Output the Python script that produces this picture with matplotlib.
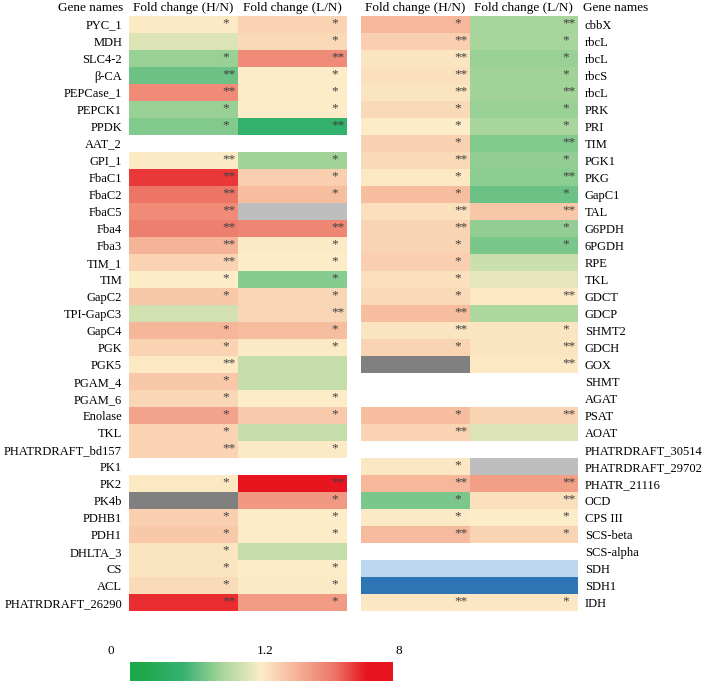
import matplotlib
matplotlib.use('Agg')
import matplotlib.pyplot as plt
import numpy as np
from matplotlib.colors import LinearSegmentedColormap, ListedColormap, TwoSlopeNorm

plt.rcParams['font.family'] = ['Liberation Serif', 'DejaVu Serif']

nan = np.nan

# %% data: left table
genes_l = ['PYC_1', 'MDH', 'SLC4-2', 'β-CA', 'PEPCase_1', 'PEPCK1', 'PPDK', 'AAT_2',
           'GPI_1', 'FbaC1', 'FbaC2', 'FbaC5', 'Fba4', 'Fba3', 'TIM_1', 'TIM', 'GapC2',
           'TPI-GapC3', 'GapC4', 'PGK', 'PGK5', 'PGAM_4', 'PGAM_6', 'Enolase', 'TKL',
           'PHATRDRAFT_bd157', 'PK1', 'PK2', 'PK4b', 'PDHB1', 'PDH1', 'DHLTA_3', 'CS',
           'ACL', 'PHATRDRAFT_26290']
hn_l = [1.3, 1.06, 0.79, 0.65, 4.3, 0.79, 0.72, nan, 1.3, 6.0, 5.0, 4.3, 4.7, 3.0, 2.0,
        1.25, 2.4, 1.03, 2.9, 2.0, 1.35, 2.4, 1.9, 3.5, 2.0, 2.0, nan, 1.35, nan, 2.15,
        2.35, 1.5, 1.5, 1.75, 6.2]
ln_l = [2.0, 1.8, 4.3, 1.2, 1.2, 1.2, 0.43, nan, 0.82, 2.15, 2.7, nan, 4.45, 1.3, 1.25,
        0.74, 1.9, 1.9, 2.7, 1.3, 0.96, 0.96, 1.25, 2.3, 0.96, 1.3, nan, 7.0, 3.9, 1.25,
        1.25, 0.96, 1.25, 1.3, 3.8]
hn_l_sig = ['*', '', '*', '**', '**', '*', '*', '', '**', '**', '**', '**', '**', '**',
            '**', '*', '*', '', '*', '*', '**', '*', '*', '*', '*', '**', '', '*', '',
            '*', '*', '*', '*', '*', '**']
ln_l_sig = ['*', '*', '**', '*', '*', '*', '**', '', '*', '*', '*', '', '**', '*', '*',
            '*', '*', '**', '*', '*', '', '', '*', '*', '', '*', '', '**', '*', '*', '*',
            '', '*', '*', '*']
# special cells: 1 = dark grey, 2 = light grey
hn_l_flag = {28: 1}
ln_l_flag = {11: 2}

# %% data: right table
genes_r = ['cbbX', 'rbcL', 'rbcL', 'rbcS', 'rbcL', 'PRK', 'PRI', 'TIM', 'PGK1', 'PKG',
           'GapC1', 'TAL', 'G6PDH', '6PGDH', 'RPE', 'TKL', 'GDCT', 'GDCP', 'SHMT2', 'GDCH',
           'GOX', 'SHMT', 'AGAT', 'PSAT', 'AOAT', 'PHATRDRAFT_30514', 'PHATRDRAFT_29702',
           'PHATR_21116', 'OCD', 'CPS III', 'SCS-beta', 'SCS-alpha', 'SDH', 'SDH1', 'IDH']
hn_r = [2.85, 2.15, 1.5, 1.6, 1.5, 1.8, 1.25, 2.1, 1.8, 1.35, 2.7, 1.6, 1.95, 1.95, 2.15,
        1.6, 1.8, 2.7, 1.5, 1.95, nan, nan, nan, 2.7, 2.0, nan, 1.4, 2.85, 0.7, 1.3, 2.75,
        nan, nan, nan, 1.4]
ln_r = [0.84, 0.84, 0.79, 0.82, 0.82, 0.79, 0.84, 0.72, 0.77, 0.75, 0.65, 2.4, 0.77, 0.7,
        0.99, 1.1, 1.35, 0.87, 1.5, 1.5, 1.35, nan, nan, 1.95, 1.06, nan, nan, 3.65, 1.6,
        1.25, 1.95, nan, nan, nan, 1.4]
hn_r_sig = ['*', '**', '**', '**', '**', '*', '*', '*', '**', '*', '*', '**', '**', '*',
            '*', '*', '*', '**', '**', '*', '', '', '', '*', '**', '', '*', '**', '*', '*',
            '**', '', '', '', '**']
ln_r_sig = ['**', '*', '*', '*', '**', '*', '*', '**', '*', '**', '*', '**', '*', '*', '',
            '', '**', '', '*', '**', '**', '', '', '**', '', '', '', '**', '**', '*', '*',
            '', '', '', '*']
# 3 = light blue, 4 = dark blue
hn_r_flag = {20: 1, 32: 3, 33: 4}
ln_r_flag = {26: 2, 32: 3, 33: 4}

col_titles = ['Fold change (H/N)', 'Fold change (L/N)']
cbar_ticks = [0, 1.2, 8]

# %% styles
cmap = LinearSegmentedColormap.from_list('fc', [
    (0.0, '#1ba84a'), (0.05, '#1fa94b'), (0.2, '#36b272'), (0.35, '#a8d59b'),
    (0.5, '#fcedc8'), (0.62, '#f6b99c'), (0.78, '#ec7566'), (0.9, '#e8141e'),
    (1.0, '#e8141e')])
norm = TwoSlopeNorm(vmin=0, vcenter=1.2, vmax=8)
flag_cmap = ListedColormap(['#808080', '#bebebe', '#bdd7ee', '#2e75b6'])

W, H = 708, 683
fig = plt.figure(figsize=(W / 100, H / 100), dpi=100)


def px_axes(x0, y0, x1, y1):
    return fig.add_axes([x0 / W, 1 - y1 / H, (x1 - x0) / W, (y1 - y0) / H])


def table(ax, genes, cols, sigs, flags, side):
    n = len(genes)
    vals = np.array(cols, dtype=float).T
    ax.pcolormesh(np.arange(3), np.arange(n + 1), np.ma.masked_invalid(vals),
                  cmap=cmap, norm=norm)
    fl = np.full((n, 2), np.nan)
    for j, d in enumerate(flags):
        for i, f in d.items():
            fl[i, j] = f
    ax.pcolormesh(np.arange(3), np.arange(n + 1), np.ma.masked_invalid(fl),
                  cmap=flag_cmap, vmin=0.5, vmax=4.5)
    for j, s in enumerate(sigs):
        for i, t in enumerate(s):
            if t:
                ax.text(j + (0.89 if t == '*' else 0.92), i + 0.45, t, ha='center',
                        va='center', fontsize=9.5, color='#404040')
    ax.set_xlim(0, 2)
    ax.set_ylim(n, 0)
    ax.set_yticks(np.arange(n) + 0.5)
    ax.set_yticklabels(genes, fontsize=9)
    ax.set_xticks([])
    ax.tick_params(length=0, pad=5)
    if side == 'right':
        ax.yaxis.tick_right()
    for sp in ax.spines.values():
        sp.set_visible(False)
    for j, t in enumerate(col_titles):
        ax.text(j + 0.5, -0.45, t, ha='center', va='center', fontsize=9.5)
    hx = -0.05 if side == 'left' else 2.05
    ax.text(hx, -0.45, 'Gene names', ha='right' if side == 'left' else 'left',
            va='center', fontsize=9.5)


ax1 = px_axes(129, 15.5, 347, 611)
table(ax1, genes_l, [hn_l, ln_l], [hn_l_sig, ln_l_sig], [hn_l_flag, ln_l_flag], 'left')
ax2 = px_axes(361, 15.5, 578, 611)
table(ax2, genes_r, [hn_r, ln_r], [hn_r_sig, ln_r_sig], [hn_r_flag, ln_r_flag], 'right')

# %% colour bar (linear in normalised space, 1.2 in the middle)
cax = px_axes(130, 662, 393, 681)
grad = norm.inverse(np.linspace(0, 1, 512))[None, :]
cax.imshow(grad, aspect='auto', cmap=cmap, norm=norm, extent=(0, 1, 0, 1))
cax.set_axis_off()
for v, xp in zip(cbar_ticks, [111, 265, 399]):
    fig.text(xp / W, 1 - 651 / H, f'{v:g}', ha='center', va='center', fontsize=9.5)

fig.savefig('out.png', dpi=100)
